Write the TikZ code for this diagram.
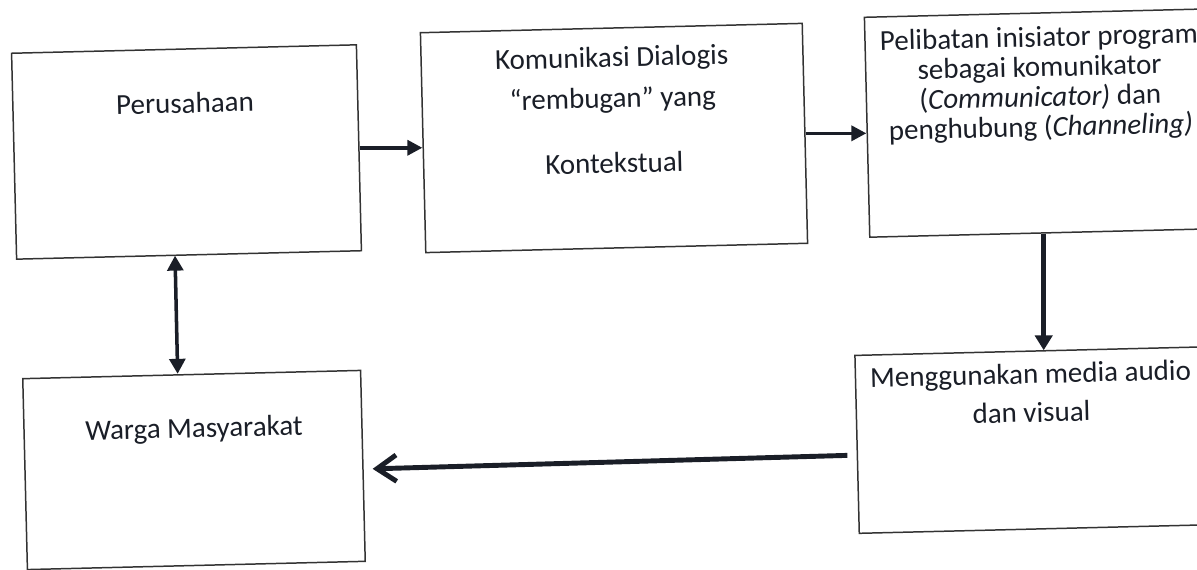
\documentclass[tikz,border=0pt]{standalone}
\usepackage{fontspec}
\setmainfont{Carlito}
\usetikzlibrary{arrows.meta,calc}
\definecolor{ink}{HTML}{1A1E27}
\definecolor{edge}{HTML}{333333}
\tikzset{
  box/.style={draw=edge, line width=0.85pt, rotate=1.4, inner sep=0pt},
  txt/.style={text=ink, align=center, rotate=1.4, inner sep=0pt},
  conn/.style={draw=ink, line width=2pt, -{Triangle[length=8.5pt,width=8.5pt]}},
  vconn/.style={draw=ink, line width=2.8pt, -{Triangle[length=8.5pt,width=9.8pt]}},
  biconn/.style={draw=ink, line width=2pt, {Triangle[length=8.5pt,width=9pt]}-{Triangle[length=8.5pt,width=9pt]}},
  barb/.style={draw=ink, line width=2.8pt, -{Straight Barb[length=11pt,width=15pt,line width=2.8pt]}}
}
\begin{document}
\begin{tikzpicture}[x=0.02cm,y=-0.02cm]
\useasboundingbox (0,0) rectangle (1197,570);
\clip (0,0) rectangle (1197,570);
\fill[white] (0,0) rectangle (1197,570);
% boxes
\node[box, minimum width=6.9cm, minimum height=4.12cm] (b1) at (186.5,152) {};
\node[box, minimum width=7.64cm, minimum height=4.4cm] (b2) at (614,138) {};
\node[box, minimum width=6.96cm, minimum height=4.4cm] (b3) at (1041,123) {};
\node[box, minimum width=7.16cm, minimum height=3.56cm] (b4) at (1036,440) {};
\node[box, minimum width=6.76cm, minimum height=3.82cm] (b5) at (194,470) {};
% texts
\node[txt, font=\fontsize{16.5}{20}\selectfont] (t1) at (185,103) {Perusahaan};
\node[txt, font=\fontsize{16.5}{23.3}\selectfont] (t2) at (613,110) {Komunikasi Dialogis\\“rembugan” yang\\[13.7pt]Kontekstual};
\node[txt, font=\fontsize{16.5}{17}\selectfont] (t3) at (1040,84) {Pelibatan inisiator program\\sebagai komunikator\\(\textit{Communicator)} dan\\penghubung (\textit{Channeling)}};
\node[txt, font=\fontsize{16.5}{22}\selectfont] (t4) at (1031,393) {Menggunakan media audio\\dan visual};
\node[txt, font=\fontsize{16.5}{20}\selectfont] (t5) at (194,430) {Warga Masyarakat};
% connectors
\draw[conn] (b1.east) -- (b1.east -| b2.west);
\draw[conn] (b2.east) -- (b2.east -| b3.west);
\draw[vconn] (b3.south) -- (b3.south |- b4.north);
\draw[biconn] ($(b1.south)+(-14,0)$) -- ($(b5.north)+(-14,0)$);
\draw[barb] ($(b4.west)+(-9,11)$) -- ($(b5.east)+(9,3)$);
\end{tikzpicture}
\end{document}
